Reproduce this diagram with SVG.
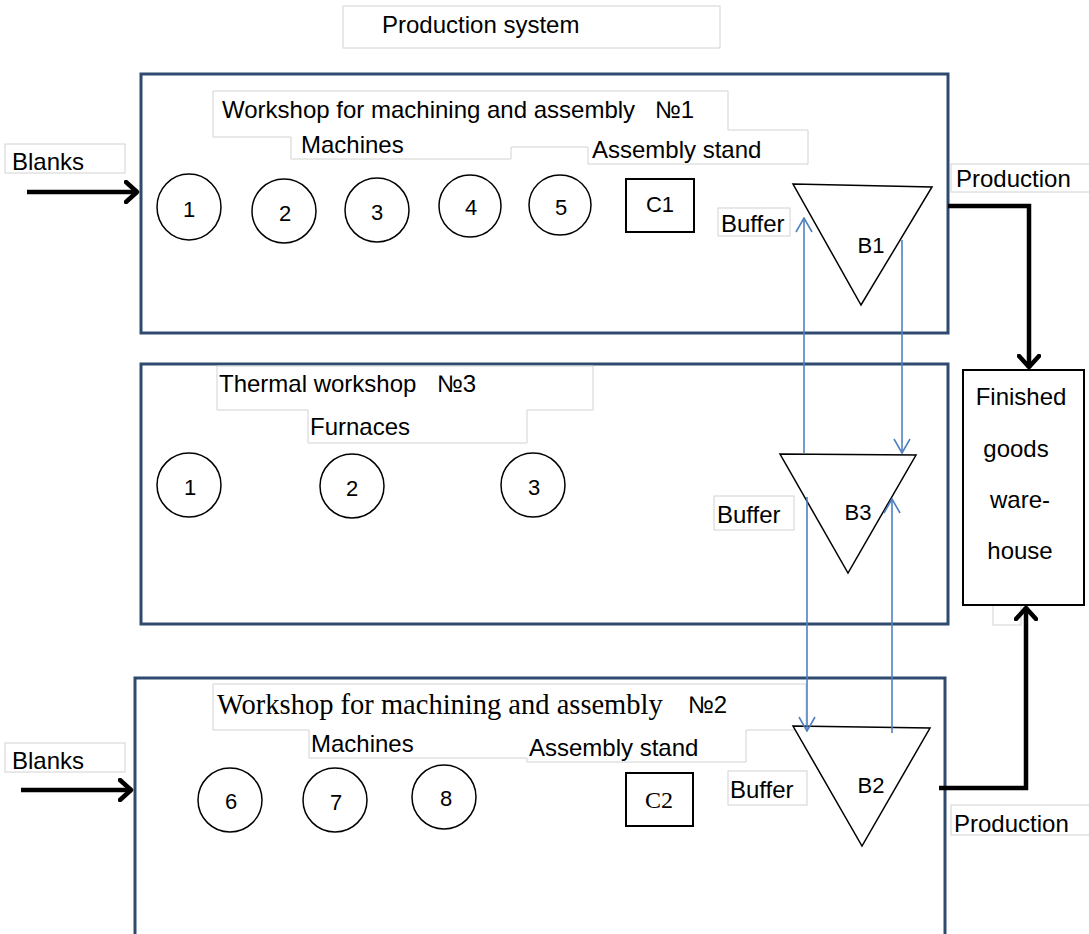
<svg xmlns="http://www.w3.org/2000/svg" width="1089" height="934" viewBox="0 0 1089 934">
<style>
.ws{fill:none;stroke:#2E4A6E;stroke-width:3}
.lbl{fill:#fff;stroke:#d2d2d2;stroke-width:1}
.t{font-family:"Liberation Sans",Arial,sans-serif;font-size:24px;fill:#000}
.m{fill:#fff;stroke:#000;stroke-width:1.5}
.n{font-family:"Liberation Sans",Arial,sans-serif;font-size:22px;fill:#000;text-anchor:middle;dominant-baseline:central}
.blue{stroke:#4F81BD;stroke-width:1.6;fill:none}
.blk{stroke:#000;stroke-width:4.5;fill:none}
</style>
<defs>
<marker id="ab" markerUnits="userSpaceOnUse" viewBox="0 0 16 18" refX="15" refY="9" markerWidth="16" markerHeight="18" orient="auto">
<path d="M1,1 L15,9 L1,17" fill="none" stroke="#4F81BD" stroke-width="1.6"/>
</marker>
<marker id="ak" markerUnits="userSpaceOnUse" viewBox="0 0 16 24" refX="14" refY="12" markerWidth="16" markerHeight="24" orient="auto">
<path d="M2,2 L13,12 L2,22" fill="none" stroke="#000" stroke-width="4.5" stroke-linecap="round" stroke-linejoin="round"/>
</marker>
</defs>
<rect width="1089" height="934" fill="#fff"/>

<g id="title">
<rect class="lbl" x="343" y="6" width="377" height="42"/>
<text class="t" x="382" y="33">Production system</text>
</g>

<g id="workshop1">
<rect class="ws" x="141" y="74" width="807" height="259"/>
<path class="lbl" d="M213,91 H728 V130 H808 V164 H588 V147 H511 V159 H291 V137 H213 Z"/>
<text class="t" x="222" y="118">Workshop for machining and assembly<tspan x="655">№1</tspan></text>
<text class="t" x="301" y="153">Machines</text>
<text class="t" x="592" y="158">Assembly stand</text>
</g>
<g id="blanks1"><rect class="lbl" x="5" y="144" width="120" height="29"/><text class="t" x="12" y="170">Blanks</text></g>
<g id="m1"><ellipse class="m" cx="189" cy="207" rx="32" ry="33"/><text class="n" x="189" y="209">1</text></g>
<g id="m2"><ellipse class="m" cx="284" cy="211" rx="32" ry="32"/><text class="n" x="285" y="213">2</text></g>
<g id="m3"><ellipse class="m" cx="377" cy="210" rx="32" ry="32"/><text class="n" x="377" y="212">3</text></g>
<g id="m4"><ellipse class="m" cx="470" cy="206" rx="31" ry="31"/><text class="n" x="471" y="207">4</text></g>
<g id="m5"><ellipse class="m" cx="560" cy="205" rx="31" ry="30"/><text class="n" x="561" y="207">5</text></g>
<g id="c1"><rect x="626" y="179" width="68" height="53" fill="#fff" stroke="#000" stroke-width="2"/><text class="n" x="660" y="204">C1</text></g>
<g id="buffer1"><rect class="lbl" x="718" y="208" width="72" height="28"/><text class="t" x="721" y="232">Buffer</text></g>
<g id="b1"><polygon class="m" points="793,184 932,187 861,305"/><text class="n" x="871" y="245" font-size="21">B1</text></g>
<g id="prod1"><rect class="lbl" x="951" y="164" width="140" height="28"/><text class="t" x="956" y="187">Production</text></g>

<g id="workshop3">
<rect class="ws" x="141" y="364" width="807" height="260"/>
<path class="lbl" d="M217,366 H593 V410 H527 V443 H308 V410 H217 Z"/>
<text class="t" x="219" y="392">Thermal workshop<tspan x="437">№3</tspan></text>
<text class="t" x="310" y="435">Furnaces</text>
</g>
<g id="f1"><ellipse class="m" cx="189" cy="485" rx="32" ry="32"/><text class="n" x="190" y="487">1</text></g>
<g id="f2"><ellipse class="m" cx="352" cy="486" rx="32" ry="32"/><text class="n" x="352" y="488">2</text></g>
<g id="f3"><ellipse class="m" cx="533" cy="485" rx="32" ry="32"/><text class="n" x="534" y="487">3</text></g>
<g id="buffer3"><rect class="lbl" x="714" y="496" width="80" height="34"/><text class="t" x="717" y="523">Buffer</text></g>
<g id="b3"><polygon class="m" points="780,454 916,455 848,573"/><text class="n" x="858" y="512">B3</text></g>

<g id="warehouse">
<rect class="lbl" x="993" y="598" width="28" height="27"/>
<rect x="963" y="370" width="121" height="235" fill="#fff" stroke="#000" stroke-width="2"/>
<text class="t" text-anchor="middle" x="1021" y="405">Finished</text>
<text class="t" text-anchor="middle" x="1016" y="457">goods</text>
<text class="t" text-anchor="middle" x="1020" y="508">ware-</text>
<text class="t" text-anchor="middle" x="1020" y="559">house</text>
</g>

<g id="workshop2">
<path class="ws" d="M135,940 V678 H945 V940"/>
<path class="lbl" d="M213,684 H806 V730 H746 V762 H527 V758 H309 V730 H213 Z"/>
<text x="217" y="714" style="font-family:'Liberation Serif','Times New Roman',serif;font-size:28.5px;fill:#000">Workshop for machining and assembly</text>
<text class="t" x="688" y="713">№2</text>
<text class="t" x="311" y="752">Machines</text>
<text class="t" x="529" y="756">Assembly stand</text>
</g>
<g id="blanks2"><rect class="lbl" x="5" y="743" width="120" height="29"/><text class="t" x="12" y="769">Blanks</text></g>
<g id="m6"><ellipse class="m" cx="230" cy="800" rx="32" ry="32"/><text class="n" x="231" y="801">6</text></g>
<g id="m7"><ellipse class="m" cx="335" cy="800" rx="32" ry="32"/><text class="n" x="336" y="802">7</text></g>
<g id="m8"><ellipse class="m" cx="444" cy="797" rx="32" ry="32"/><text class="n" x="446" y="798">8</text></g>
<g id="c2"><rect x="626" y="773" width="67" height="53" fill="#fff" stroke="#000" stroke-width="2"/><text x="659" y="800" style="font-family:'Liberation Serif','Times New Roman',serif;font-size:24px;fill:#000;text-anchor:middle;dominant-baseline:central">C2</text></g>
<g id="buffer2"><rect class="lbl" x="728" y="771" width="79" height="34"/><text class="t" x="730" y="798">Buffer</text></g>
<g id="b2"><polygon class="m" points="793,726 930,728 862,846"/><text class="n" x="871" y="785">B2</text></g>
<g id="prod2"><rect class="lbl" x="951" y="805" width="140" height="30"/><text class="t" x="954" y="832">Production</text></g>

<g id="connectors">
<line class="blk" x1="27" y1="192" x2="138" y2="192" marker-end="url(#ak)"/>
<line class="blk" x1="21" y1="790" x2="132" y2="790" marker-end="url(#ak)"/>
<polyline class="blk" points="948,206 1029,206 1029,368" marker-end="url(#ak)"/>
<polyline class="blk" points="939,788 1026,788 1026,607" marker-end="url(#ak)"/>
<line class="blue" x1="804" y1="453" x2="804" y2="218" marker-end="url(#ab)"/>
<line class="blue" x1="902" y1="240" x2="902" y2="453" marker-end="url(#ab)"/>
<line class="blue" x1="807" y1="497" x2="807" y2="731" marker-end="url(#ab)"/>
<line class="blue" x1="892" y1="733" x2="892" y2="499" marker-end="url(#ab)"/>
</g>
</svg>
